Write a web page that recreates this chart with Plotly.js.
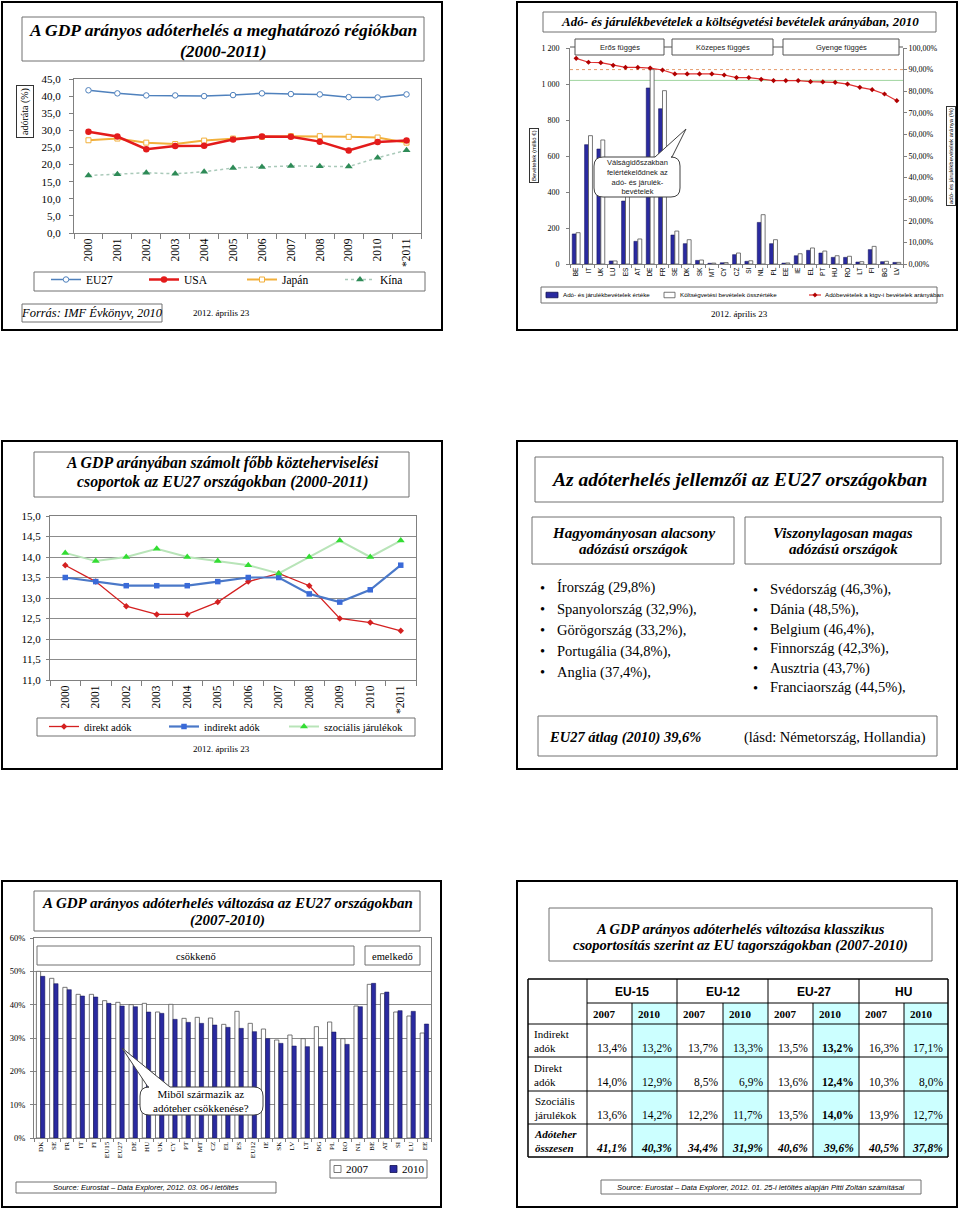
<!DOCTYPE html>
<html><head><meta charset="utf-8">
<script src="https://cdn.plot.ly/plotly-3.0.1.min.js"></script>
<style>html,body{margin:0;padding:0;background:#fff;}#chart{width:960px;height:1209px;}</style>
</head><body><div id="chart"></div>
<script>
// ---------- DATA ----------
const years = ['2000','2001','2002','2003','2004','2005','2006','2007','2008','2009','2010','*2011'];
const eu27  = [41.7,40.8,40.2,40.2,40.0,40.3,40.8,40.6,40.5,39.7,39.6,40.5];
const usa   = [29.6,28.2,24.5,25.4,25.5,27.3,28.2,28.1,26.7,24.1,26.6,27.0];
const japan = [27.1,27.6,26.4,26.0,27.0,27.6,28.1,28.3,28.3,28.1,27.9,26.4];
const kina  = [16.8,17.2,17.6,17.3,17.9,19.0,19.3,19.6,19.5,19.4,22.0,24.2];

const countries2 = ['BE','IT','UK','LU','ES','AT','DE','FR','SE','DK','SK','MT','CY','CZ','SI','NL','PL','EE','IE','EL','PT','HU','RO','LT','FI','BG','LV'];
const taxRevenue    = [167,663,639,17,350,126,978,863,161,113,20,4,7,52,15,231,113,5,46,76,61,37,37,11,80,13,9];
const budgetRevenue = [174,713,689,17,400,139,1080,963,183,135,22,5,8,61,18,274,135,6,57,89,72,46,43,13,98,15,9];
const taxShare      = [95.2,93.4,93.2,92.0,91.0,91.0,90.7,89.8,88.0,88.0,88.0,88.0,87.5,86.3,86.3,85.5,84.9,84.9,84.9,84.4,84.3,84.1,83.3,81.8,80.7,78.7,75.6];
const thresholds = [90, 85];
const dependencyGroups = ['Erős függés','Közepes függés','Gyenge függés'];

const direkt    = [13.8,13.4,12.8,12.6,12.6,12.9,13.4,13.6,13.3,12.5,12.4,12.2];
const indirekt  = [13.5,13.4,13.3,13.3,13.3,13.4,13.5,13.5,13.1,12.9,13.2,13.8];
const szocialis = [14.1,13.9,14.0,14.2,14.0,13.9,13.8,13.6,14.0,14.4,14.0,14.4];

const lowTaxCountries  = ['Írország (29,8%)','Spanyolország (32,9%),','Görögország (33,2%),','Portugália (34,8%),','Anglia (37,4%),'];
const highTaxCountries = ['Svédország (46,3%),','Dánia (48,5%),','Belgium (46,4%),','Finnország (42,3%),','Ausztria (43,7%)','Franciaország (44,5%),'];

const countries5 = ['DK','SE','FR','IT','FI','EU15','EU27','DE','HU','UK','CY','PT','MT','CZ','EL','ES','EU12','IE','SK','LV','LT','BG','PL','RO','NL','BE','AT','SI','LU','EE'];
const gdp2007 = [50.0,47.9,45.2,43.1,43.1,41.2,40.7,40.0,40.4,37.8,40.1,35.9,36.2,36.0,34.1,38.0,34.4,32.7,29.4,30.9,29.8,33.4,34.8,29.8,39.6,46.1,43.3,37.8,36.6,31.5];
const gdp2010 = [48.5,46.3,44.5,42.6,42.3,40.4,39.6,39.4,37.8,37.4,35.6,34.7,34.4,33.9,33.2,32.9,31.9,29.8,28.4,27.6,27.4,27.4,31.8,28.1,39.4,46.4,43.8,38.2,38.0,34.2];

const tableGroups = ['EU-15','EU-12','EU-27','HU'];
const tableYears  = ['2007','2010'];
const tableRows   = ['Indirekt<br>adók','Direkt<br>adók','Szociális<br>járulékok','Adóteher<br>összesen'];
const tableValues = [
  [13.4,13.2,13.7,13.3,13.5,13.2,16.3,17.1],
  [14.0,12.9, 8.5, 6.9,13.6,12.4,10.3, 8.0],
  [13.6,14.2,12.2,11.7,13.5,14.0,13.9,12.7],
  [41.1,40.3,34.4,31.9,40.6,39.6,40.5,37.8]
];

// ---------- HELPERS ----------
const W = 960, H = 1209;
const X = p => p / W;
const Y = p => 1 - p / H;
const SERIF = 'Liberation Serif, Times New Roman, serif';
const SANS = 'Liberation Sans, Arial, sans-serif';
const shapes = [], annotations = [];
function rect(x0, y0, x1, y1, o = {}) {
  shapes.push({type:'rect', xref:'paper', yref:'paper', x0:X(x0), x1:X(x1), y0:Y(y1), y1:Y(y0),
    line:{color:o.color || '#6a6a6a', width:o.width ?? 1}, fillcolor:o.fill || 'rgba(0,0,0,0)', layer:o.layer || 'above'});
}
function seg(x0, y0, x1, y1, o = {}) {
  shapes.push({type:'line', xref:'paper', yref:'paper', x0:X(x0), x1:X(x1), y0:Y(y0), y1:Y(y1),
    line:{color:o.color || '#6a6a6a', width:o.width ?? 1, dash:o.dash || 'solid'}, layer:o.layer || 'above'});
}
function txt(x, y, t, o = {}) {
  annotations.push({xref:'paper', yref:'paper', x:X(x), y:Y(y), text:t, showarrow:false,
    xanchor:o.xa || 'center', yanchor:o.ya || 'middle', align:o.align || 'center',
    textangle:o.angle || 0,
    font:{family:o.family || SERIF, size:o.size || 12, color:o.color || '#000'},
    bordercolor:o.border || 'rgba(0,0,0,0)', borderwidth:o.border ? 1 : 0, borderpad:o.pad || 1,
    bgcolor:o.bg || 'rgba(0,0,0,0)'});
}
function callout(x0, y0, x1, y1, r, b1, b2, tx, ty) {
  const P = (x, y) => X(x) + ',' + Y(y);
  const d = 'M' + P(x0 + r, y0) + ' L' + P(b1, y0) + ' L' + P(tx, ty) + ' L' + P(b2, y0) + ' L' + P(x1 - r, y0) +
    ' Q' + P(x1, y0) + ' ' + P(x1, y0 + r) + ' L' + P(x1, y1 - r) + ' Q' + P(x1, y1) + ' ' + P(x1 - r, y1) +
    ' L' + P(x0 + r, y1) + ' Q' + P(x0, y1) + ' ' + P(x0, y1 - r) + ' L' + P(x0, y0 + r) + ' Q' + P(x0, y0) + ' ' + P(x0 + r, y0) + ' Z';
  shapes.push({type:'path', xref:'paper', yref:'paper', path:d, fillcolor:'#fff', line:{color:'#404040', width:1}, layer:'above'});
}
function diamond(cx, cy, r, color) {
  const P = (x, y) => X(x) + ',' + Y(y);
  shapes.push({type:'path', xref:'paper', yref:'paper', path:'M' + P(cx, cy - r) + ' L' + P(cx + r, cy) + ' L' + P(cx, cy + r) + ' L' + P(cx - r, cy) + ' Z',
    fillcolor:color, line:{color:color, width:0.5}, layer:'above'});
}
// custom legend entry drawn from a trace's own name and style
function legendEntry(tr, sx0, sx1, cy, sh, textX, font) {
  if (tr.type === 'bar') {
    rect(sx0, cy - sh / 2, sx1, cy + sh / 2, {color:tr.marker.line.color, width:0.8, fill:tr.marker.color});
  } else {
    seg(sx0, cy, sx1, cy, {color:tr.line.color, width:tr.line.width});
    diamond((sx0 + sx1) / 2, cy, 2.2, tr.marker.color);
  }
  txt(textX, cy, tr.name, {xa:'left', family:font.family, size:font.size});
}
const fmt = v => v.toFixed(1).replace('.', ',') + '%';

// ---------- PANEL FRAMES ----------
[[2,2,442,330],[517,2,957,330],[2,441,442,769],[517,441,957,769],[2,881,441,1207],[517,881,957,1207]]
  .forEach(f => rect(f[0], f[1], f[2], f[3], {color:'#000', width:2}));

// ---------- PANEL 1 ----------
rect(22, 17, 424, 61, {color:'#707070'});
txt(223, 30, '<b><i>A GDP arányos adóterhelés a meghatározó régiókban</i></b>', {size:17.5});
txt(223, 51, '<b><i>(2000-2011)</i></b>', {size:17.5});
txt(25, 112, 'adóráta (%)', {angle:-90, size:10, border:'#333', pad:2});
rect(34, 272, 425, 291, {color:'#707070'});
rect(22, 304, 162, 322, {color:'#707070'});
txt(92, 313, '<i>Forrás: IMF Évkönyv, 2010</i>', {size:12.5});
txt(221, 313, '2012. április 23', {size:9});

// ---------- PANEL 2 ----------
rect(543, 12, 936, 32, {color:'#707070'});
txt(740, 22, '<b><i>Adó- és járulékbevételek a költségvetési bevételek arányában, 2010</i></b>', {size:13});
const depBoxes = [[575,664],[672,773],[783,899]];
depBoxes.forEach((b, i) => {
  rect(b[0], 39, b[1], 55, {color:'#555', fill:'#fff'});
  txt((b[0] + b[1]) / 2, 47, dependencyGroups[i], {family:SANS, size:7.5, color:'#222'});
});
seg(570, 47, 575, 47, {color:'#555'}); seg(664, 47, 672, 47, {color:'#555'});
seg(773, 47, 783, 47, {color:'#555'}); seg(899, 47, 903, 47, {color:'#555'});
txt(534, 156, 'Bevételek (millió €)', {angle:-90, family:SANS, size:6, border:'#333', pad:1});
txt(951, 156, 'adó- és járulékbevételek aránya (%)', {angle:-90, family:SANS, size:6, border:'#333', pad:1});
callout(594, 157, 680, 197, 9, 655, 672, 686, 129);
txt(637, 177, 'Válságidőszakban<br>felértékelődnek az<br>adó- és járulék-<br>bevételek', {family:SANS, size:7.5, color:'#222'});
rect(541, 287, 937, 303, {color:'#707070'});
txt(739, 314, '2012. április 23', {size:9});
thresholds.forEach((t, i) => shapes.push({type:'line', xref:'x2 domain', yref:'y3', x0:0, x1:1, y0:t, y1:t,
  line:{color:i === 0 ? '#e59a6a' : '#9fd59f', width:1, dash:i === 0 ? 'dot' : 'solid'}, layer:'below'}));

// ---------- PANEL 3 ----------
rect(34, 452, 409, 497, {color:'#707070'});
txt(222, 463, '<b><i>A GDP arányában számolt főbb közteherviselési</i></b>', {size:15.8});
txt(222, 482, '<b><i>csoportok az EU27 országokban (2000-2011)</i></b>', {size:15.8});
rect(37, 718, 415, 736, {color:'#707070'});
txt(221, 749, '2012. április 23', {size:9});

// ---------- PANEL 4 ----------
rect(535, 457, 943, 502, {color:'#707070'});
txt(739, 480, '<b><i>Az adóterhelés jellemzői az EU27 országokban</i></b>', {size:19.5});
rect(532, 517, 734, 564, {color:'#707070'});
txt(633, 533, '<b><i>Hagyományosan alacsony</i></b>', {size:15});
txt(633, 549, '<b><i>adózású országok</i></b>', {size:15});
rect(745, 517, 941, 564, {color:'#707070'});
txt(843, 533, '<b><i>Viszonylagosan magas</i></b>', {size:15});
txt(843, 549, '<b><i>adózású országok</i></b>', {size:15});
lowTaxCountries.forEach((c, i) => {
  const yy = 588 + i * 21;
  txt(542, yy, '•', {size:14.5});
  txt(556, yy, c, {xa:'left', size:14.5});
});
highTaxCountries.forEach((c, i) => {
  const yy = 590 + i * 19.5;
  txt(755, yy, '•', {size:14.5});
  txt(769, yy, c, {xa:'left', size:14.5});
});
rect(538, 716, 937, 756, {color:'#707070'});
txt(548, 737, '<b><i>EU27 átlag (2010) 39,6%</i></b>', {xa:'left', size:14.5});
txt(927, 737, '(lásd: Németország, Hollandia)', {xa:'right', size:14.5});

// ---------- PANEL 5 ----------
rect(34, 891, 420, 931, {color:'#707070'});
txt(227, 903, '<b><i>A GDP arányos adóterhelés változása az EU27 országokban</i></b>', {size:15});
txt(227, 920, '<b><i>(2007-2010)</i></b>', {size:15});
rect(37, 946, 354, 965, {color:'#707070', fill:'#fff'});
txt(196, 956, 'csökkenő', {size:10.5});
rect(365, 946, 420, 965, {color:'#707070', fill:'#fff'});
txt(392, 956, 'emelkedő', {size:10.5});
callout(140, 1087, 263, 1115, 9, 148, 170, 122, 1048);
txt(201, 1101, 'Miből származik az<br>adóteher csökkenése?', {size:11});
rect(330, 1160, 427, 1178, {color:'#707070'});
rect(16, 1182, 276, 1193, {color:'#707070'});
txt(146, 1187.5, '<i>Source: Eurostat – Data Explorer, 2012. 03. 06-i letöltés</i>', {family:SANS, size:7.5});

// ---------- PANEL 6 ----------
rect(549, 908, 932, 961, {color:'#707070'});
txt(740, 929, '<b><i>A GDP arányos adóterhelés változása klasszikus</i></b>', {size:14.5});
txt(740, 946, '<b><i>csoportosítás szerint az EU tagországokban (2007-2010)</i></b>', {size:14.5});
const colE = [528,587,632,677,723,768,813,859,904,948];
const rowE = [979,1003,1024,1057,1091,1124,1157];
for (let g = 0; g < 4; g++) rect(colE[2 + 2 * g], rowE[1], colE[3 + 2 * g], rowE[6], {color:'rgba(0,0,0,0)', width:0, fill:'#ccffff', layer:'below'});
seg(colE[0], rowE[0], colE[9], rowE[0], {color:'#000', width:1.5});
seg(colE[1], rowE[1], colE[9], rowE[1], {color:'#000'});
for (let r = 2; r < 6; r++) seg(colE[0], rowE[r], colE[9], rowE[r], {color:'#000'});
seg(colE[0], rowE[6], colE[9], rowE[6], {color:'#000', width:1.5});
colE.forEach((c, i) => {
  const full = (i === 0 || i % 2 === 1 || i === 9);
  seg(c, full ? rowE[0] : rowE[1], c, rowE[6], {color:'#000', width:(i === 0 || i === 9) ? 1.5 : 1});
});
tableGroups.forEach((g, i) => txt((colE[1 + 2 * i] + colE[3 + 2 * i]) / 2, 992, '<b>' + g + '</b>', {family:SANS, size:12}));
for (let c = 0; c < 8; c++) txt(colE[1 + c] + 5, 1013.5, '<b>' + tableYears[c % 2] + '</b>', {xa:'left', size:11});
tableRows.forEach((lab, r) => {
  const bottom = rowE[r + 3];
  const isTotal = r === 3;
  txt(533, bottom - 16.5, isTotal ? lab.split('<br>').map(s => '<b><i>' + s + '</i></b>').join('<br>') : lab, {xa:'left', align:'left', size:11});
  tableValues[r].forEach((v, c) => {
    let s = fmt(v);
    if (isTotal) s = '<b><i>' + s + '</i></b>';
    else if (c === 5) s = '<b>' + s + '</b>';
    txt(colE[2 + c] - 4, bottom - 9, s, {xa:'right', size:11.5});
  });
});
rect(601, 1180, 921, 1194, {color:'#707070'});
txt(761, 1187, '<i>Source: Eurostat – Data Explorer, 2012. 01. 25-i letöltés alapján Pitti Zoltán számításai</i>', {family:SANS, size:7.5});

// ---------- TRACES ----------
const traces = [
  {type:'scatter', mode:'lines+markers', x:years, y:eu27, name:'EU27', xaxis:'x', yaxis:'y', legend:'legend', legendrank:1,
   line:{color:'#4f81bd', width:1.5}, marker:{symbol:'circle', size:5.5, color:'#fff', line:{color:'#4f81bd', width:1}}},
  {type:'scatter', mode:'lines+markers', x:years, y:japan, name:'Japán', xaxis:'x', yaxis:'y', legend:'legend', legendrank:3,
   line:{color:'#f2b03c', width:2}, marker:{symbol:'square', size:5, color:'#fff', line:{color:'#f2b03c', width:1}}},
  {type:'scatter', mode:'lines+markers', x:years, y:usa, name:'USA', xaxis:'x', yaxis:'y', legend:'legend', legendrank:2,
   line:{color:'#e31b1b', width:2.5}, marker:{symbol:'circle', size:6.5, color:'#e31b1b'}},
  {type:'scatter', mode:'lines+markers', x:years, y:kina, name:'Kína', xaxis:'x', yaxis:'y', legend:'legend', legendrank:4,
   line:{color:'#a9c9b9', width:1.5, dash:'dot'}, marker:{symbol:'triangle-up', size:7, color:'#2e8b57'}},

  {type:'bar', x:countries2, y:taxRevenue, name:'Adó- és járulékbevételek értéke', xaxis:'x2', yaxis:'y2', showlegend:false,
   marker:{color:'#2a2aa0', line:{color:'#111150', width:0.5}}},
  {type:'bar', x:countries2, y:budgetRevenue, name:'Költségvetési bevételek összértéke', xaxis:'x2', yaxis:'y2', showlegend:false,
   marker:{color:'#fff', line:{color:'#555', width:0.8}}},
  {type:'scatter', mode:'lines+markers', x:countries2, y:taxShare, name:'Adóbevételek a ktgv-i bevételek arányában', xaxis:'x2', yaxis:'y3', showlegend:false,
   line:{color:'#e03030', width:1.2}, marker:{symbol:'diamond', size:4, color:'#b00000'}},

  {type:'scatter', mode:'lines+markers', x:years, y:direkt, name:'direkt adók', xaxis:'x3', yaxis:'y4', legend:'legend3',
   line:{color:'#d42020', width:1.3}, marker:{symbol:'diamond', size:5, color:'#d42020'}},
  {type:'scatter', mode:'lines+markers', x:years, y:indirekt, name:'indirekt adók', xaxis:'x3', yaxis:'y4', legend:'legend3',
   line:{color:'#4a78c8', width:2.2}, marker:{symbol:'square', size:5.5, color:'#3a6ad8'}},
  {type:'scatter', mode:'lines+markers', x:years, y:szocialis, name:'szociális járulékok', xaxis:'x3', yaxis:'y4', legend:'legend3',
   line:{color:'#b8e4b8', width:2}, marker:{symbol:'triangle-up', size:7, color:'#33dd33'}},

  {type:'bar', x:countries5, y:gdp2007, name:'2007', xaxis:'x4', yaxis:'y5', showlegend:false,
   marker:{color:'#fff', line:{color:'#555', width:0.8}}},
  {type:'bar', x:countries5, y:gdp2010, name:'2010', xaxis:'x4', yaxis:'y5', showlegend:false,
   marker:{color:'#2a2aa0', line:{color:'#111150', width:0.5}}}
];

// custom legends (panel 2 and panel 5), built from the traces themselves
legendEntry(traces[4], 546, 558, 295, 5.5, 562, {family:SANS, size:6.2});
legendEntry(traces[5], 664, 675, 295, 5.5, 679, {family:SANS, size:6.2});
legendEntry(traces[6], 809, 821, 295, 0, 824, {family:SANS, size:6.2});
legendEntry(traces[10], 334, 341, 1169, 7, 345, {family:SERIF, size:11});
legendEntry(traces[11], 390, 397, 1169, 7, 401, {family:SERIF, size:11});

// ---------- LAYOUT ----------
const ax = {showgrid:false, zeroline:false, showline:true, linecolor:'#808080', linewidth:1, ticks:'outside', tickcolor:'#808080', fixedrange:true};
const legBase = {xanchor:'left', yanchor:'top', orientation:'h', bgcolor:'rgba(0,0,0,0)', borderwidth:0, itemclick:false, itemdoubleclick:false};
const layout = {
  width:W, height:H, autosize:false, margin:{l:0, r:0, t:0, b:0, pad:0, autoexpand:false}, paper_bgcolor:'#fff', plot_bgcolor:'rgba(0,0,0,0)',
  separators:', ', hovermode:false, barmode:'group', bargap:0.36, bargroupgap:0, showlegend:true,
  font:{family:SERIF, color:'#000'},
  xaxis:{...ax, domain:[X(74), X(421)], anchor:'y', type:'category', range:[-0.5, 11.5], tickangle:-90, tickson:'boundaries', ticklen:5, mirror:true,
    tickfont:{family:SERIF, size:11.5, color:'#000'}},
  yaxis:{...ax, domain:[Y(233), Y(79)], anchor:'x', range:[0, 45], dtick:5, tick0:0, tickformat:'.1f', ticklen:4, mirror:true,
    tickfont:{family:SERIF, size:11, color:'#000'}, ticklabelstandoff:6},
  xaxis2:{...ax, domain:[X(570), X(903)], anchor:'y2', type:'category', range:[-0.5, 26.5], tickangle:-90, tickson:'boundaries', ticklen:3,
    tickfont:{family:SANS, size:6.5, color:'#000'}},
  yaxis2:{...ax, domain:[Y(264), Y(48)], anchor:'x2', range:[0, 1200], dtick:200, tick0:0, tickformat:',d', ticklen:3,
    tickfont:{family:SERIF, size:8, color:'#000'}, ticklabelstandoff:5},
  yaxis3:{...ax, domain:[Y(264), Y(48)], anchor:'x2', overlaying:'y2', side:'right', range:[0, 100], dtick:10, tick0:0, tickformat:'.2f', ticksuffix:'%', ticklen:3,
    tickfont:{family:SERIF, size:8, color:'#000'}},
  xaxis3:{...ax, domain:[X(50), X(416)], anchor:'y4', type:'category', range:[-0.5, 11.5], tickangle:-90, tickson:'boundaries', ticklen:5, mirror:true,
    tickfont:{family:SERIF, size:11.5, color:'#000'}},
  yaxis4:{...ax, domain:[Y(680), Y(516)], anchor:'x3', range:[11, 15], dtick:0.5, tick0:11, tickformat:'.1f', showgrid:true, gridcolor:'#8c8c8c', ticklen:3, mirror:true,
    tickfont:{family:SERIF, size:11, color:'#000'}, ticklabelstandoff:3},
  xaxis4:{...ax, domain:[X(34), X(431)], anchor:'y5', type:'category', range:[-0.5, 29.5], tickangle:-90, tickson:'boundaries', ticklen:3, mirror:true,
    tickfont:{family:SERIF, size:7, color:'#000'}},
  yaxis5:{...ax, domain:[Y(1138), Y(938)], anchor:'x4', range:[0, 60], dtick:10, tick0:0, tickformat:'d', ticksuffix:'%', showgrid:true, gridcolor:'#8c8c8c', ticklen:3, mirror:true,
    tickfont:{family:SERIF, size:8.5, color:'#000'}, ticklabelstandoff:3},
  legend:{...legBase, x:X(46), y:Y(265), font:{family:SERIF, size:11.5, color:'#000'}, entrywidth:53},
  legend3:{...legBase, x:X(44), y:Y(712), font:{family:SERIF, size:10.5, color:'#000'}, entrywidth:75},
  shapes:shapes, annotations:annotations
};

Plotly.newPlot('chart', traces, layout, {staticPlot:true, displayModeBar:false});
</script>
</body></html>
